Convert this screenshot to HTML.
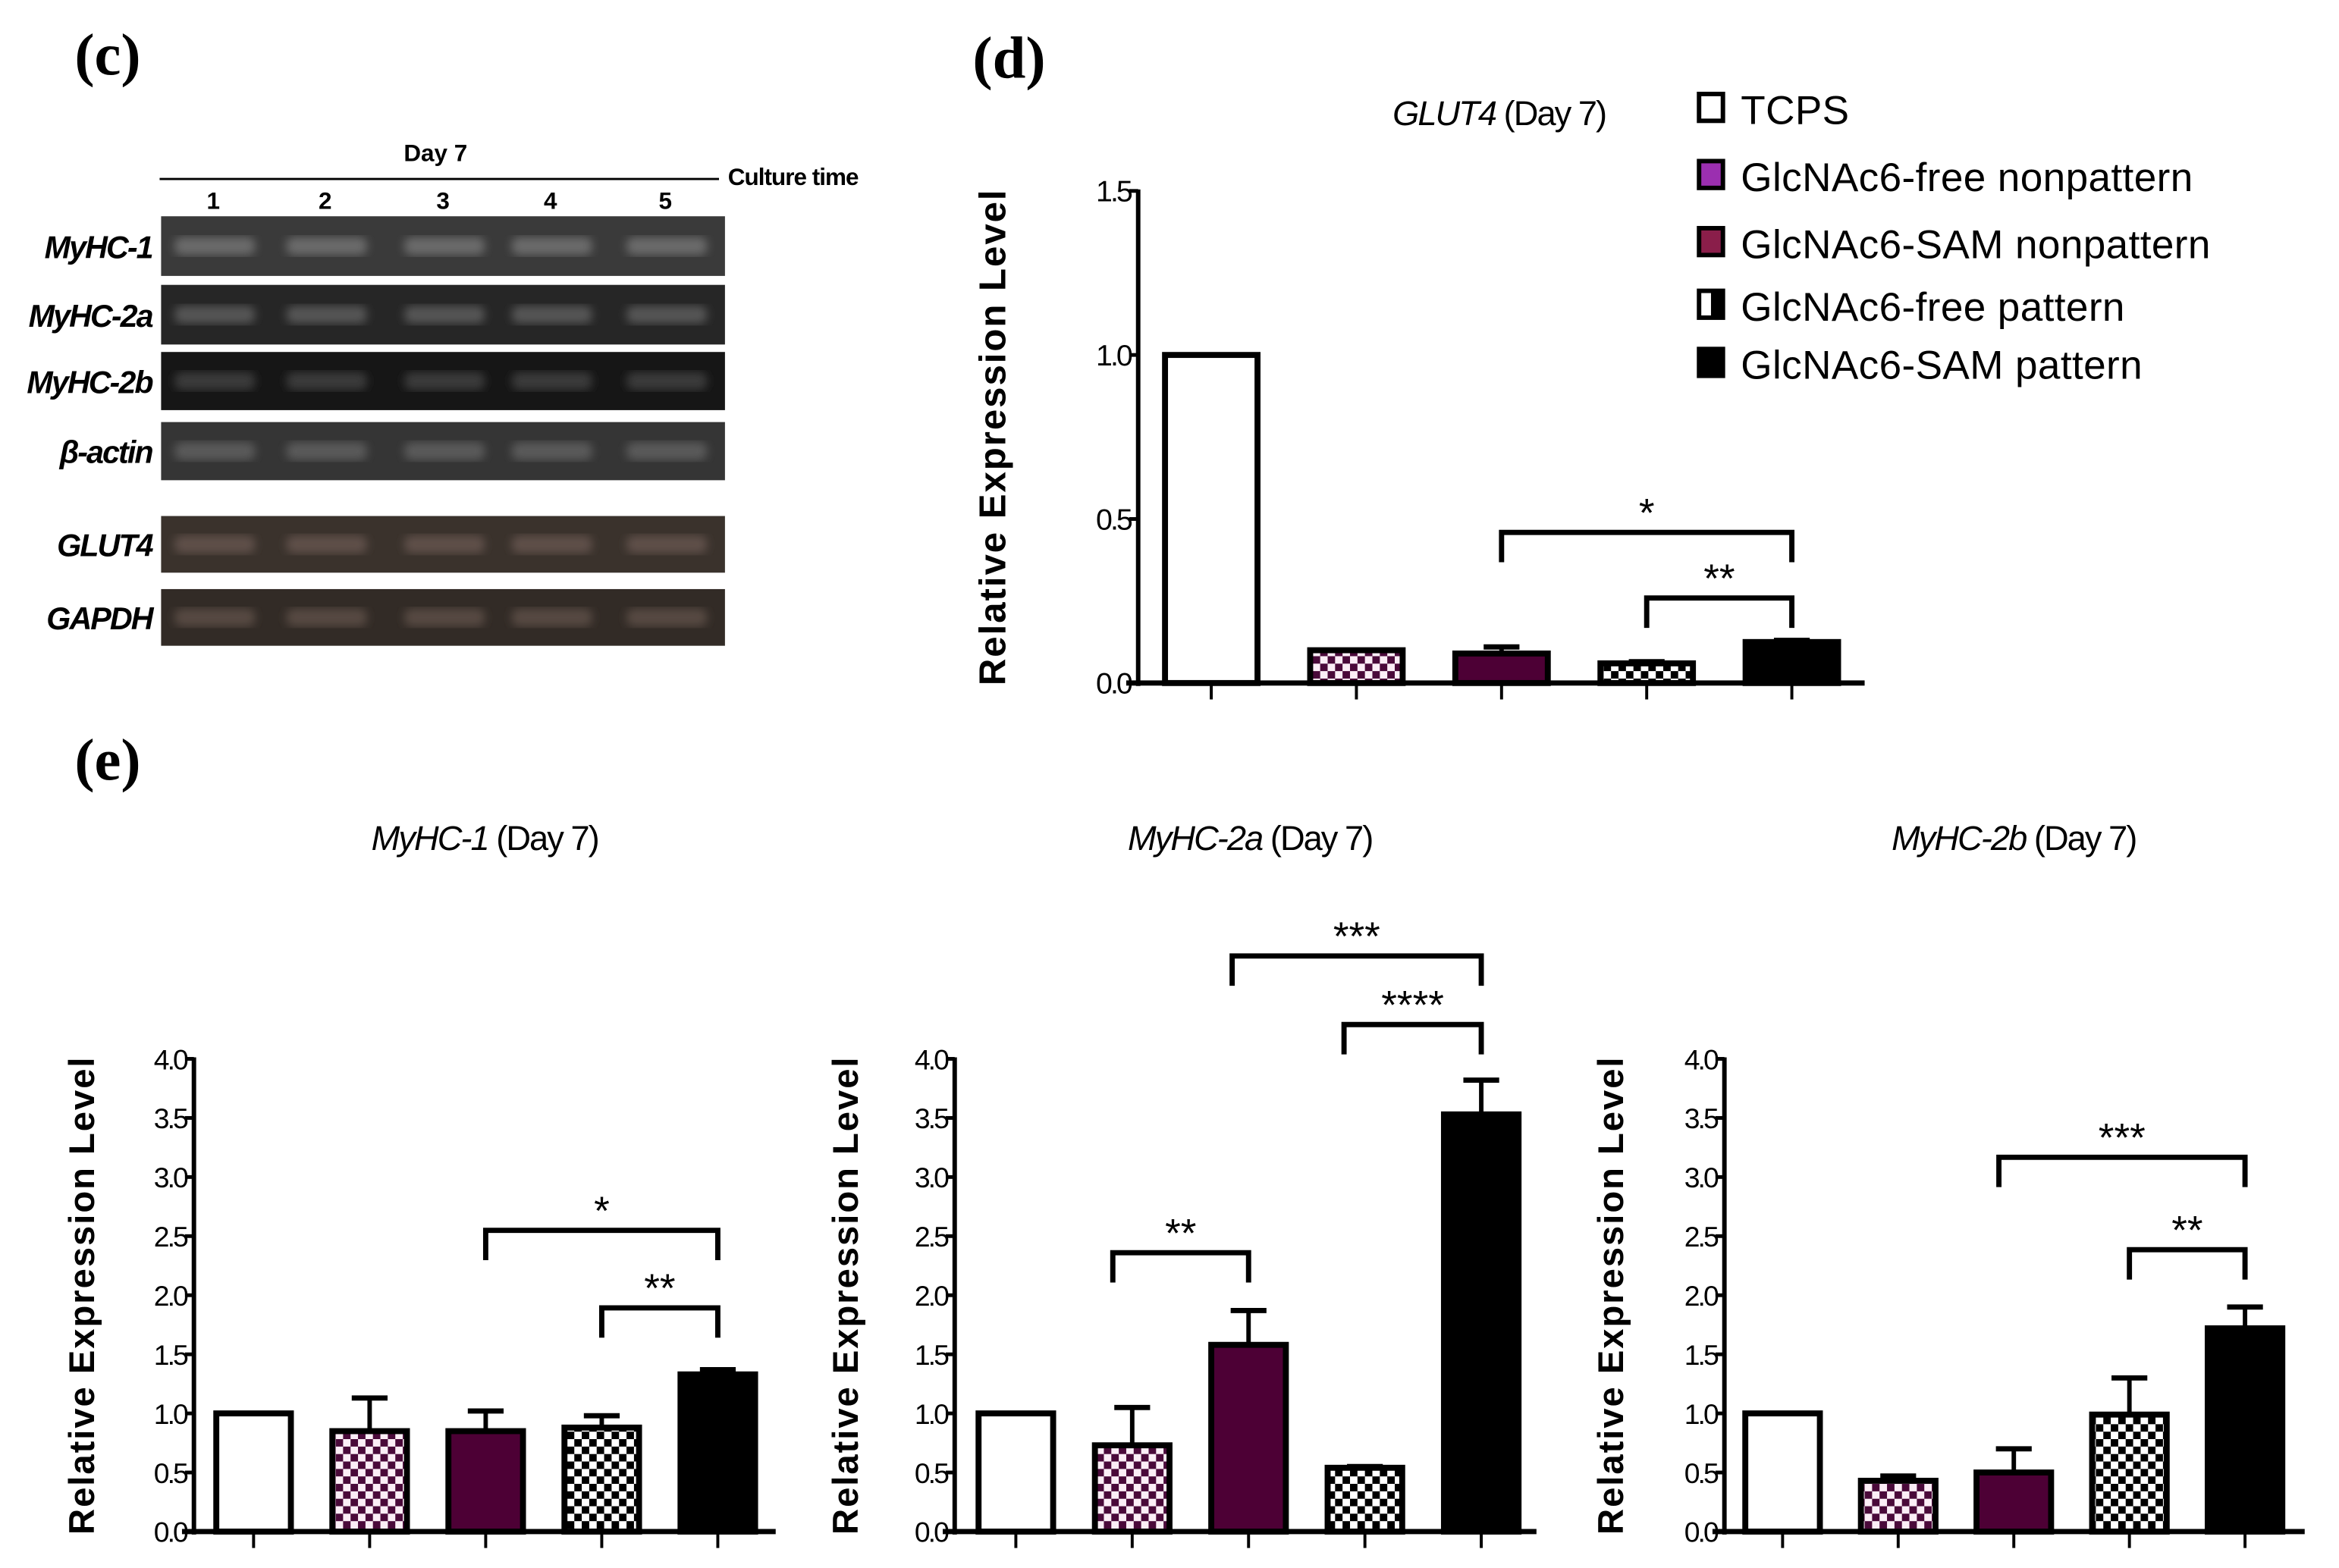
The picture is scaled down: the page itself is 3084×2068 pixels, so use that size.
<!DOCTYPE html>
<html><head><meta charset="utf-8">
<style>
html,body{margin:0;padding:0;background:#fff;}
svg{display:block;}
.lab{font-family:"Liberation Serif",serif;font-weight:bold;font-size:40px;}
</style></head>
<body>
<svg id="fig" width="3084" height="2068" viewBox="0 0 1568 1051.4" xmlns="http://www.w3.org/2000/svg">
<defs>
<pattern id="chkP" width="10" height="10" patternUnits="userSpaceOnUse">
<rect width="10" height="10" fill="#fbeef6"/><rect width="5" height="5" fill="#4a0a3a"/><rect x="5" y="5" width="5" height="5" fill="#4a0a3a"/></pattern>
<pattern id="chkK" width="10" height="10" patternUnits="userSpaceOnUse">
<rect width="10" height="10" fill="#fff"/><rect width="5" height="5" fill="#000"/><rect x="5" y="5" width="5" height="5" fill="#000"/></pattern>
<filter id="blur"><feGaussianBlur stdDeviation="3"/></filter>
</defs>
<text class="lab" x="50" y="50">(c)</text>
<text class="lab" x="652" y="52">(d)</text>
<text class="lab" x="50" y="523">(e)</text>
<g id="gel"></g>
<g id="charts"></g>
</svg>
<script>
const NS="http://www.w3.org/2000/svg";
function mk(tag,attrs,parent,txt){const e=document.createElementNS(NS,tag);for(const k in attrs)e.setAttribute(k,attrs[k]);if(txt!=null)e.textContent=txt;parent.appendChild(e);return e;}

// ---------- gel ----------
const gelRows=["MyHC-1","MyHC-2a","MyHC-2b","β-actin","GLUT4","GAPDH"];
const gelLanes=["1","2","3","4","5"];
const gel=document.getElementById('gel');
const rowY=[145,191,236,283,346,395], rowH=[40,40,39,39,38,38];
const rowFill=["#3a3a3a","#262626","#161616","#353535","#3a322c","#322b26"];
const bandFill=["#6a6a6a","#555","#3a3a3a","#5a5a5a","#5e5048","#564a42"];
mk('text',{x:292,y:108,'text-anchor':'middle','font-family':'Liberation Sans,sans-serif','font-weight':'bold','font-size':16},gel,'Day 7');
mk('line',{x1:107,y1:120,x2:482,y2:120,stroke:'#000','stroke-width':1.5},gel);
mk('text',{x:488,y:124,'font-family':'Liberation Sans,sans-serif','font-weight':'bold','font-size':16,'letter-spacing':-0.5},gel,'Culture time');
const laneX=[143,218,297,369,446];
gelLanes.forEach((l,i)=>{mk('text',{x:laneX[i],y:140,'text-anchor':'middle','font-family':'Liberation Sans,sans-serif','font-weight':'bold','font-size':16},gel,l);});
gelRows.forEach((r,i)=>{
  const g=mk('g',{},gel);
  
  
  mk('rect',{x:108,y:rowY[i],width:378,height:rowH[i],fill:rowFill[i]},g);
  laneX.forEach(x=>mk('rect',{x:x-26,y:rowY[i]+rowH[i]/2-6,width:54,height:12,rx:5,fill:bandFill[i],filter:'url(#blur)'},g));
  mk('text',{x:102,y:rowY[i]+rowH[i]/2+8,'text-anchor':'end','font-family':'Liberation Sans,sans-serif','font-weight':'bold','font-style':'italic','font-size':21,'letter-spacing':-1},g,r);
});

// ---------- chart data ----------
const groups=["TCPS","GlcNAc6-free nonpattern","GlcNAc6-SAM nonpattern","GlcNAc6-free pattern","GlcNAc6-SAM pattern"];
const glut4Vals=[1.0,0.10,0.09,0.06,0.125];
const glut4Err=[0,0,0.02,0.005,0.005];
const myhc1Vals=[1.0,0.85,0.85,0.88,1.33];
const myhc1Err=[0,0.28,0.17,0.10,0.04];
const myhc2aVals=[1.0,0.73,1.58,0.54,3.53];
const myhc2aErr=[0,0.32,0.29,0.01,0.29];
const myhc2bVals=[1.0,0.43,0.50,0.99,1.72];
const myhc2bErr=[0,0.04,0.20,0.31,0.18];
const glut4Ticks=["0.0","0.5","1.0","1.5"];
const myhcTicks=["0.0","0.5","1.0","1.5","2.0","2.5","3.0","3.5","4.0"];
const fills=["#fff","url(#chkP)","#4d0035","url(#chkK)","#000"];

const charts=document.getElementById('charts');
function chart(o){
  const g=mk('g',{},charts);
  
  
  const ymax=parseFloat(o.ticks[o.ticks.length-1]);
  const yS=v=>o.y0-(v/ymax)*(o.y0-o.y1);
  const xS=i=>o.x0+o.off+i*o.step;
  if(o.title){const t=mk('text',{x:o.tx,y:o.ty,'text-anchor':'middle','font-family':'Liberation Sans,sans-serif','font-size':23,'letter-spacing':-1},g);
    mk('tspan',{'font-style':'italic'},t,o.title);mk('tspan',{},t,' (Day 7)');
    }
  const yl=mk('text',{x:0,y:0,transform:`translate(${o.ylx},${(o.y0+o.y1)/2}) rotate(-90)`,'text-anchor':'middle','font-family':'Liberation Sans,sans-serif','font-weight':'bold','font-size':o.ylfs,'letter-spacing':1},g,'Relative Expression Level');
  
  o.vals.forEach((v,i)=>{
    const cx=xS(i),y=yS(v);
    if(o.err[i]>0){const ye=yS(v+o.err[i]);
      mk('line',{x1:cx,y1:y,x2:cx,y2:ye,stroke:'#000','stroke-width':3},g);
      mk('line',{x1:cx-12,y1:ye,x2:cx+12,y2:ye,stroke:'#000','stroke-width':3.5},g);}
    const b=mk('rect',{x:cx-o.bw/2+2,y:y,width:o.bw-4,height:o.y0-y,fill:fills[i],stroke:'#000','stroke-width':4},g);
    
    
    mk('line',{x1:cx,y1:o.y0,x2:cx,y2:o.y0+11,stroke:'#000','stroke-width':2},g);
  });
  mk('line',{x1:o.x0,y1:o.y1-1,x2:o.x0,y2:o.y0+2,stroke:'#000','stroke-width':3},g);
  mk('line',{x1:o.x0-8,y1:o.y0,x2:o.xe,y2:o.y0,stroke:'#000','stroke-width':3.5},g);
  o.ticks.forEach(t=>{const y=yS(parseFloat(t));
    mk('line',{x1:o.x0-6,y1:y,x2:o.x0,y2:y,stroke:'#000','stroke-width':2.5},g);
    const tl=mk('text',{x:o.x0-5,y:y+7,'text-anchor':'end','font-family':'Liberation Sans,sans-serif','font-size':o.tfs,'letter-spacing':-1.5},g,t);
    });
  o.br.forEach(b=>{const x1=xS(b[0])+(b[4]||0),x2=xS(b[1]);
    mk('path',{d:`M${x1},${b[2]+20} V${b[2]} H${x2} V${b[2]+20}`,fill:'none',stroke:'#000','stroke-width':3.5},g);
    const s=mk('text',{x:(x1+x2)/2,y:b[2]-4,'text-anchor':'middle','font-family':'Liberation Sans,sans-serif','font-size':27},g,b[3]);
    });
}
chart({name:'glut4-chart',vals:glut4Vals,err:glut4Err,ticks:glut4Ticks,x0:763,xe:1250,y0:458,y1:128,off:49,step:97.3,bw:66,
  title:'GLUT4',tx:1005,ty:84,ylx:674,ylfs:25,tfs:20,br:[[2,4,357,'*'],[3,4,401,'**']]});
chart({name:'myhc1-chart',vals:myhc1Vals,err:myhc1Err,ticks:myhcTicks,x0:130,xe:520,y0:1027,y1:710,off:40,step:77.8,bw:54,
  title:'MyHC-1',tx:325,ty:570,ylx:63,ylfs:24,tfs:19,br:[[2,4,825,'*'],[3,4,877,'**']]});
chart({name:'myhc2a-chart',vals:myhc2aVals,err:myhc2aErr,ticks:myhcTicks,x0:640,xe:1030,y0:1027,y1:710,off:41,step:78,bw:54,
  title:'MyHC-2a',tx:838,ty:570,ylx:575,ylfs:24,tfs:19,br:[[1,2,840,'**',-13],[2,4,641,'***',-11],[3,4,687,'****',-14]]});
chart({name:'myhc2b-chart',vals:myhc2bVals,err:myhc2bErr,ticks:myhcTicks,x0:1156,xe:1545,y0:1027,y1:710,off:39,step:77.5,bw:54,
  title:'MyHC-2b',tx:1350,ty:570,ylx:1088,ylfs:24,tfs:19,br:[[2,4,776,'***',-10],[3,4,838,'**']]});

const legY=[73,118,163,205,244];
const legFill=["#fff","#9b2fb0","#8a1e4a","#fff","#000"];
groups.forEach((n,i)=>{
  const g=mk('g',{},charts);
  
  
  mk('rect',{x:1139,y:legY[i]-10,width:16,height:18,fill:legFill[i],stroke:'#000','stroke-width':3},g);
  if(i==3) mk('rect',{x:1147,y:legY[i]-9,width:7,height:16,fill:'#000'},g);
  mk('text',{x:1167,y:legY[i]+10,'font-family':'Liberation Sans,sans-serif','font-size':27,'letter-spacing':0.2},g,n);
});
</script>
</body></html>
